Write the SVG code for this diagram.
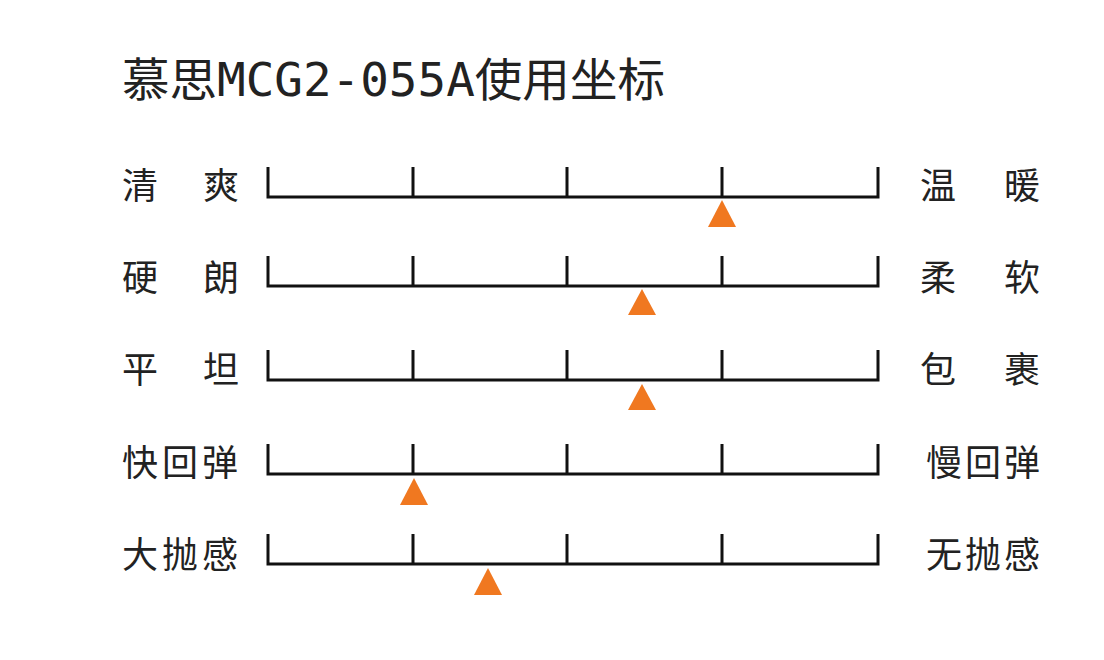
<svg xmlns="http://www.w3.org/2000/svg" width="1104" height="660" viewBox="0 0 1104 660">
<style>
text{font-family:"Noto Sans CJK SC","Noto Sans",sans-serif;fill:#222;font-size:36px}
.t{font-size:46px}
.s{stroke:#111;stroke-width:3;fill:none}
.m{fill:#f07820}
</style>
<defs>
<path id="sc" class="s" d="M268,-30V0H878V-30M413,-30V0M567,-30V0M722,-30V0"/>
</defs>
<rect width="1104" height="660" fill="#fff"/>
<text class="t" x="122" y="96" textLength="543" lengthAdjust="spacingAndGlyphs">慕思<tspan font-family="DejaVu Sans Mono,monospace">MCG2-055A</tspan>使用坐标</text>
<g id="connectors">
<use href="#sc" y="197"/><use href="#sc" y="286"/><use href="#sc" y="380"/><use href="#sc" y="474"/><use href="#sc" y="564"/>
</g>
<g id="markers">
<polygon class="m" points="722,200 736,227 708,227"/>
<polygon class="m" points="642,289 656,315 628,315"/>
<polygon class="m" points="642,384 656,410 628,410"/>
<polygon class="m" points="414,478 428,505 400,505"/>
<polygon class="m" points="488,568 502,595 474,595"/>
</g>
<g id="labels">
<text x="122" y="199">清</text><text x="203" y="199">爽</text><text x="920" y="199">温</text><text x="1004" y="199">暖</text>
<text x="122" y="291">硬</text><text x="203" y="291">朗</text><text x="920" y="291">柔</text><text x="1004" y="291">软</text>
<text x="122" y="383">平</text><text x="203" y="383">坦</text><text x="920" y="383">包</text><text x="1004" y="383">裹</text>
<text x="122" y="476" textLength="116">快回弹</text><text x="926" y="476" textLength="114">慢回弹</text>
<text x="122" y="568" textLength="116">大抛感</text><text x="926" y="568" textLength="114">无抛感</text>
</g>
</svg>
